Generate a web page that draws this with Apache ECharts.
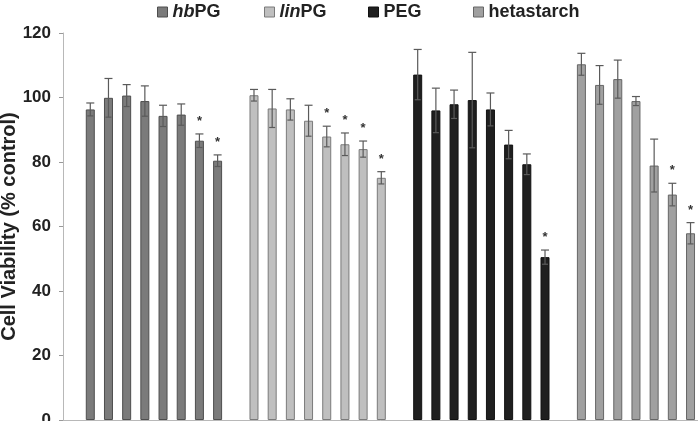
<!DOCTYPE html>
<html>
<head>
<meta charset="utf-8">
<script src="https://cdn.jsdelivr.net/npm/echarts@6/dist/echarts.min.js"></script>
<style>
  html, body { margin: 0; padding: 0; background: #fff; }
  #main { width: 698px; height: 421px; }
</style>
</head>
<body>
<div id="main"></div>
<script>
// values (cell viability, % control), 8 concentrations per polymer
var groupNames = ['hbPG', 'linPG', 'PEG', 'hetastarch'];
var hbPG = [96.3, 99.9, 100.6, 98.9, 94.3, 94.7, 86.6, 80.4];
var hbPGErr = [2.0, 6.0, 3.4, 4.7, 3.3, 3.3, 2.1, 1.8];
var hbPGSig = [0, 0, 0, 0, 0, 0, 1, 1];
var linPG = [100.7, 96.6, 96.3, 92.8, 87.9, 85.5, 84.0, 75.1];
var linPGErr = [1.8, 5.9, 3.3, 4.8, 3.2, 3.5, 2.5, 1.9];
var linPGSig = [0, 0, 0, 0, 1, 1, 1, 1];
var PEG = [107.1, 96.0, 97.9, 99.2, 96.3, 85.4, 79.3, 50.5];
var PEGErr = [7.8, 6.9, 4.4, 14.8, 5.1, 4.4, 3.2, 2.2];
var PEGSig = [0, 0, 0, 0, 0, 0, 0, 1];
var hetastarch = [110.3, 103.9, 105.7, 98.9, 78.9, 69.9, 57.9, 50.0];
var hetastarchErr = [3.4, 6.0, 5.9, 1.4, 8.2, 3.5, 3.3, 3.0];
var hetastarchSig = [0, 0, 0, 0, 0, 1, 1, 1];
var yTicks = [0, 20, 40, 60, 80, 100, 120];

var fills = ['#7b7b7b', '#bfbfbf', '#1f1f1f', '#a0a0a0'];
var borders = ['#4e4e4e', '#7a7a7a', '#111111', '#666666'];

var allVals = [hbPG, linPG, PEG, hetastarch];
var allErr = [hbPGErr, linPGErr, PEGErr, hetastarchErr];
var allSig = [hbPGSig, linPGSig, PEGSig, hetastarchSig];

// one empty slot before each group of 8 bars, plus one at the end
var slots = [];
for (var s = 0; s < 37; s++) slots.push('s' + s);

var barSeries = [];
var errData = [];
groupNames.forEach(function (name, g) {
    var d = slots.map(function () { return null; });
    allVals[g].forEach(function (v, i) {
        var idx = 1 + g * 9 + i;
        d[idx] = v;
        errData.push([idx, v, allErr[g][i], allSig[g][i]]);
    });
    barSeries.push({
        name: name,
        type: 'bar',
        data: d,
        barWidth: 9,
        barGap: '-100%',
        itemStyle: { color: fills[g], borderColor: borders[g], borderWidth: 1 }
    });
});

var chart = echarts.init(document.getElementById('main'));

var legendPos = [157, 264, 368, 473];
var legends = groupNames.map(function (name, g) {
    return {
        data: [name],
        left: legendPos[g],
        top: 3,
        icon: 'rect',
        itemWidth: 10,
        itemHeight: 10,
        itemGap: 0,
        padding: 0,
        selectedMode: false,
        formatter: function (n) {
            if (n === 'hbPG') return '{i|hb}{b|PG}';
            if (n === 'linPG') return '{i|lin}{b|PG}';
            return '{b|' + n + '}';
        },
        textStyle: {
            rich: {
                i: { fontStyle: 'italic', fontWeight: 'bold', fontSize: 18, fontFamily: 'Liberation Sans', color: '#222' },
                b: { fontWeight: 'bold', fontSize: 18, fontFamily: 'Liberation Sans', color: '#222' }
            }
        },
        itemStyle: { borderColor: borders[g], borderWidth: 1 }
    };
});

chart.setOption({
    animation: false,
    backgroundColor: '#fff',
    legend: legends,
    grid: { left: 63, top: 33, bottom: 1, width: 673, containLabel: false, outerBoundsMode: 'none' },
    xAxis: {
        type: 'category',
        data: slots,
        axisLine: { lineStyle: { color: '#b8b8b8' } },
        axisTick: { show: false },
        axisLabel: { show: false }
    },
    yAxis: {
        type: 'value',
        min: yTicks[0],
        max: yTicks[yTicks.length - 1],
        interval: 20,
        name: 'Cell Viability (% control)',
        nameLocation: 'middle',
        nameGap: 44,
        nameMoveOverlap: false,
        nameTextStyle: { fontSize: 20, fontWeight: 'bold', fontFamily: 'Liberation Sans', color: '#222' },
        axisLine: { show: true, lineStyle: { color: '#b8b8b8' } },
        axisTick: { show: true, length: 4, lineStyle: { color: '#999' } },
        axisLabel: { fontSize: 17, fontWeight: 'bold', fontFamily: 'Liberation Sans', color: '#222', margin: 12 },
        splitLine: { show: false }
    },
    series: barSeries.concat([{
        type: 'custom',
        data: errData,
        z: 5,
        renderItem: function (params, api) {
            var x = api.value(0), v = api.value(1), e = api.value(2), sig = api.value(3);
            var top = api.coord([x, v + e]);
            var bot = api.coord([x, v - e]);
            var style = { stroke: '#5a5a5a', lineWidth: 1.2 };
            var kids = [
                { type: 'line', shape: { x1: top[0], y1: top[1], x2: bot[0], y2: bot[1] }, style: style },
                { type: 'line', shape: { x1: top[0] - 4, y1: top[1], x2: top[0] + 4, y2: top[1] }, style: style },
                { type: 'line', shape: { x1: bot[0] - 3, y1: bot[1], x2: bot[0] + 3, y2: bot[1] }, style: style }
            ];
            if (sig) {
                kids.push({
                    type: 'text',
                    style: { text: '*', x: top[0], y: top[1] - 6, align: 'center', verticalAlign: 'bottom',
                             fontSize: 13, fontWeight: 'bold', fontFamily: 'Liberation Sans', fill: '#333' }
                });
            }
            return { type: 'group', children: kids };
        }
    }])
});
</script>
</body>
</html>
